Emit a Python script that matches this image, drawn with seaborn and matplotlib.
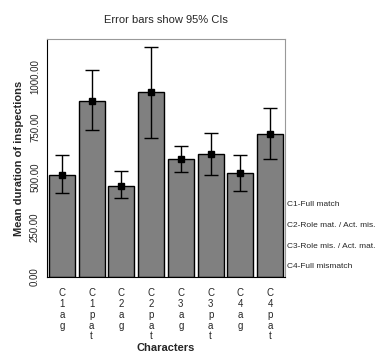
import matplotlib
matplotlib.use('Agg')
import matplotlib.pyplot as plt
import seaborn as sns
import pandas as pd

# datos
personajes = ['C1ag', 'C1pat', 'C2ag', 'C2pat', 'C3ag', 'C3pat', 'C4ag', 'C4pat']
etiquetas = ['C\n1\na\ng', 'C\n1\np\na\nt', 'C\n2\na\ng', 'C\n2\np\na\nt',
             'C\n3\na\ng', 'C\n3\np\na\nt', 'C\n4\na\ng', 'C\n4\np\na\nt']
media = [511, 881, 456, 925, 588, 615, 521, 716]
ic_bajo = [420, 735, 393, 696, 525, 508, 431, 590]
ic_alto = [608, 1036, 531, 1151, 656, 721, 611, 843]
leyenda = ['C1-Full match', 'C2-Role mat. / Act. mis.', 'C3-Role mis. / Act. mat.', 'C4-Full mismatch']

df = pd.DataFrame({'Personaje': personajes, 'Media': media})

sns.set_style('white')
plt.rcParams['font.family'] = ['Liberation Sans', 'DejaVu Sans']

fig = plt.figure(figsize=(3.8, 3.58), dpi=100)
ax = fig.add_axes([47/380, 1 - 277/358, 238/380, 238/358])

sns.barplot(data=df, x='Personaje', y='Media', color='#808080', edgecolor='black',
            linewidth=1, width=0.87, errorbar=None, saturation=1, ax=ax)

err_inf = [m - b for m, b in zip(media, ic_bajo)]
err_sup = [a - m for m, a in zip(media, ic_alto)]
ax.errorbar(range(len(media)), media, yerr=[err_inf, err_sup], fmt='s', color='black',
            markersize=5, ecolor='black', elinewidth=1, capsize=5, capthick=1)

ax.set_xlim(-0.5, 7.5)
ax.set_ylim(0, 1190)
ax.set_yticks([0, 250, 500, 750, 1000])
ax.set_yticklabels(['0.00', '250.00', '500.00', '750.00', '1000.00'], rotation=90,
                   va='center', fontsize=7)
ax.set_xticks(range(len(etiquetas)))
ax.set_xticklabels(etiquetas, fontsize=7, linespacing=1.1, va='top')
ax.tick_params(axis='both', direction='out', length=3, width=1.5, color='black', pad=2)
ax.tick_params(axis='x', pad=5)

for lado in ['top', 'right']:
    ax.spines[lado].set_color('#999999')
for lado in ['left', 'bottom']:
    ax.spines[lado].set_color('black')

ax.set_xlabel('')
fig.text(166/380, 1 - 348/358, 'Characters', ha='center', va='center', fontsize=8, fontweight='bold')
ax.set_ylabel('Mean duration of inspections', fontsize=8, fontweight='bold', labelpad=4)
fig.text(166/380, 1 - 20/358, 'Error bars show 95% CIs', ha='center', va='center', fontsize=8)

for i, texto in enumerate(leyenda):
    fig.text(287/380, 1 - (205 + i * 20.5)/358, texto, ha='left', va='center', fontsize=6)

plt.savefig('out.png', dpi=100)
